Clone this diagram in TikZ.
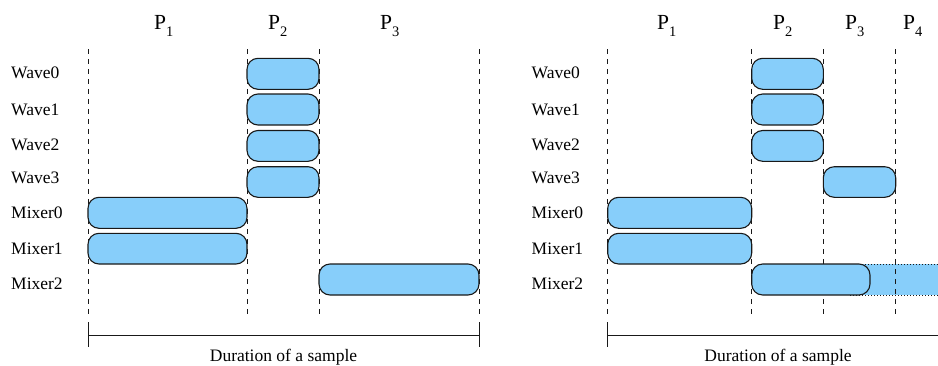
\documentclass[tikz,border=0pt]{standalone}
\usepackage{fontspec}
\setmainfont{Liberation Serif}
\definecolor{barblue}{RGB}{135,206,250}
\tikzset{
  bar/.style={draw=black!90, fill=barblue, line width=1.1pt, rounded corners=11pt},
  phase/.style={draw=black!90, line width=0.9pt, dash pattern=on 4.5pt off 5.5pt},
  span/.style={draw=black!90, line width=0.9pt},
  rowlabel/.style={anchor=base west, inner sep=0pt, font=\fontsize{17.5}{20}\selectfont},
  plabel/.style={anchor=base west, inner sep=0pt, font=\fontsize{21.5}{24}\selectfont},
  caption/.style={anchor=base, inner sep=0pt, font=\fontsize{17.5}{20}\selectfont},
  overrun/.style={draw=black!90, line width=0.9pt, dash pattern=on 1pt off 2pt}
}
\newcommand{\plab}[1]{P\raisebox{-7pt}{\fontsize{14.5}{16}\selectfont #1}}
\begin{document}
\begin{tikzpicture}[x=1pt,y=-1pt]
\useasboundingbox (0,0) rectangle (938,365);

% ---------------- left schedule ----------------
\node[plabel] (l-p1) at (154,29) {\plab{1}};
\node[plabel] (l-p2) at (268,29) {\plab{2}};
\node[plabel] (l-p3) at (380,29) {\plab{3}};

\foreach \n/\y/\t in {w0/78.5/Wave0, w1/115/Wave1, w2/150.7/Wave2, w3/183/Wave3,
                      m0/218.3/Mixer0, m1/254/Mixer1, m2/289.3/Mixer2}{
  \node[rowlabel] (l-\n) at (11,\y) {\t};
}

\foreach \x in {88,247,319,479}{
  \draw[phase] (\x,49) -- (\x,316);
}

\path[bar] (247,58.3) rectangle (319,89.3);
\path[bar] (247,94) rectangle (319,125);
\path[bar] (247,130.5) rectangle (319,161.3);
\path[bar] (247,166.7) rectangle (319,197.3);
\path[bar] (88,197.3) rectangle (247,228.3);
\path[bar] (88,233.3) rectangle (247,264);
\path[bar] (319,264) rectangle (479,295);

\coordinate (l-s) at (88,335);
\coordinate (l-e) at (479,335);
\draw[span] (88,322) -- (88,347);
\draw[span] (479,322) -- (479,347);
\draw[span] (l-s) -- (l-e);
\node[caption] (l-cap) at (283.5,361.5) {Duration of a sample};

% ---------------- right schedule ----------------
\node[plabel] (r-p1) at (657,29) {\plab{1}};
\node[plabel] (r-p2) at (773,29) {\plab{2}};
\node[plabel] (r-p3) at (845,29) {\plab{3}};
\node[plabel] (r-p4) at (903,29) {\plab{4}};

\foreach \n/\y/\t in {w0/78.5/Wave0, w1/115/Wave1, w2/150.7/Wave2, w3/183/Wave3,
                      m0/218.3/Mixer0, m1/254/Mixer1, m2/289.3/Mixer2}{
  \node[rowlabel] (r-\n) at (531.5,\y) {\t};
}

% Mixer2 running past the end of the sample
\fill[barblue] (850,264) rectangle (938,295);
\draw[overrun] (850,264) -- (938,264);
\draw[overrun] (850,295) -- (938,295);

\foreach \x in {607.7,751.7,823.3,895.7}{
  \draw[phase] (\x,49) -- (\x,316);
}

\path[bar] (751.7,58.3) rectangle (823.3,89.3);
\path[bar] (751.7,94) rectangle (823.3,125);
\path[bar] (751.7,130.5) rectangle (823.3,161.3);
\path[bar] (823.3,166.7) rectangle (895.7,197.3);
\path[bar] (607.7,197.3) rectangle (751.7,228.3);
\path[bar] (607.7,233.3) rectangle (751.7,264);
\path[bar] (751.7,264) rectangle (870,295);

\coordinate (r-s) at (607.7,335);
\coordinate (r-e) at (938,335);
\draw[span] (607.7,322) -- (607.7,347);
\draw[span] (r-s) -- (r-e);
\node[caption] (r-cap) at (778,361.5) {Duration of a sample};
\end{tikzpicture}
\end{document}
